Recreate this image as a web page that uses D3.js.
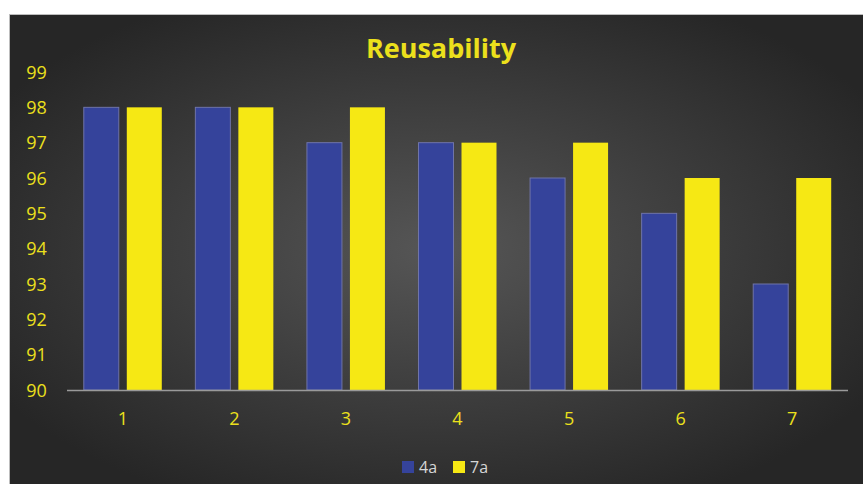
<!DOCTYPE html>
<html>
<head>
<meta charset="utf-8">
<script src="https://cdn.jsdelivr.net/npm/d3@7"></script>
<style>
  html, body { margin: 0; padding: 0; background: #ffffff; }
  svg { display: block; }
</style>
</head>
<body>
<svg id="chart" width="863" height="484"></svg>
<script>
// Chart data
const categories = ["1", "2", "3", "4", "5", "6", "7"];
const seriesNames = ["4a", "7a"];
const values4a = [98, 98, 97, 97, 96, 95, 93];
const values7a = [98, 98, 98, 97, 97, 96, 96];
const yTicks = [90, 91, 92, 93, 94, 95, 96, 97, 98, 99];

const colors = { "4a": "#35439b", "7a": "#f6e814" };
const textYellow = "#ece01c";
const font = "'Open Sans', 'Noto Sans', sans-serif";

const svg = d3.select("#chart");
const W = 863, H = 484;

// Background panel with radial shading
const defs = svg.append("defs");
const grad = defs.append("radialGradient")
  .attr("id", "bg").attr("cx", "50%").attr("cy", "50%").attr("r", "60%");
grad.append("stop").attr("offset", "0%").attr("stop-color", "#565656");
grad.append("stop").attr("offset", "100%").attr("stop-color", "#262626");

svg.append("rect").attr("x", 9).attr("y", 14).attr("width", W - 9).attr("height", H - 14)
  .attr("fill", "url(#bg)");
svg.append("line").attr("x1", 9).attr("x2", W).attr("y1", 14.5).attr("y2", 14.5)
  .attr("stroke", "#bdbdbd").attr("stroke-width", 1);
svg.append("line").attr("x1", 9.5).attr("x2", 9.5).attr("y1", 14).attr("y2", H)
  .attr("stroke", "#bdbdbd").attr("stroke-width", 1);

// Scales
const plot = { left: 67, right: 848, top: 72, bottom: 390 };
const x = d3.scaleBand().domain(categories).range([plot.left, plot.right]).paddingInner(0).paddingOuter(0);
const y = d3.scaleLinear().domain([90, 99]).range([plot.bottom, plot.top]);

const barW = 35, barGap = 8;
const rows = categories.map((c, i) => ({ cat: c, "4a": values4a[i], "7a": values7a[i] }));

// Bars
seriesNames.forEach((s, si) => {
  svg.append("g").selectAll("rect").data(rows).join("rect")
    .attr("x", d => x(d.cat) + x.bandwidth() / 2 - barGap / 2 - barW + si * (barW + barGap))
    .attr("y", d => y(d[s]))
    .attr("width", barW)
    .attr("height", d => y(90) - y(d[s]))
    .attr("fill", colors[s])
    .attr("stroke", si === 0 ? "#6f74a8" : "none")
    .attr("stroke-width", 1);
});

// Baseline
svg.append("line").attr("x1", plot.left).attr("x2", plot.right)
  .attr("y1", y(90) + 0.5).attr("y2", y(90) + 0.5)
  .attr("stroke", "#9a9a9a").attr("stroke-width", 1.5);

// Y axis labels
const yAxis = d3.axisLeft(y).tickValues(yTicks).tickSize(0).tickPadding(0);
const yg = svg.append("g").attr("transform", `translate(36.5,0)`).call(yAxis);
yg.select(".domain").remove();
yg.selectAll("text").attr("fill", textYellow).attr("font-family", font)
  .attr("font-size", 18).attr("text-anchor", "middle").attr("dy", "0.35em");

// X axis labels
const xAxis = d3.axisBottom(x).tickSize(0).tickPadding(0);
const xg = svg.append("g").attr("transform", `translate(0,${plot.bottom + 28.5})`).call(xAxis);
xg.select(".domain").remove();
xg.selectAll("text").attr("fill", textYellow).attr("font-family", font)
  .attr("font-size", 18).attr("dy", "0.35em");

// Title
svg.append("text").attr("x", 441).attr("y", 58).attr("text-anchor", "middle")
  .attr("fill", textYellow).attr("font-family", font).attr("font-weight", "bold")
  .attr("font-size", 27).text("Reusability");

// Legend
const legend = svg.append("g").attr("transform", "translate(402,467)");
const legendX = [0, 51];
seriesNames.forEach((s, i) => {
  const g = legend.append("g").attr("transform", `translate(${legendX[i]},0)`);
  g.append("rect").attr("x", 0).attr("y", -6).attr("width", 12).attr("height", 12).attr("fill", colors[s]);
  g.append("text").attr("x", 17).attr("y", 0).attr("dy", "0.35em")
    .attr("fill", "#d6d6d6").attr("font-family", font).attr("font-size", 16).text(s);
});
</script>
</body>
</html>
